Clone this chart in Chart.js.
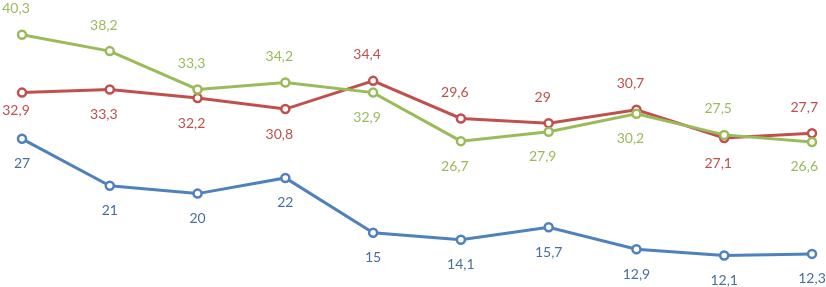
<!DOCTYPE html>
<html>
<head>
<meta charset="utf-8">
<script src="https://cdn.jsdelivr.net/npm/chart.js@4/dist/chart.umd.min.js"></script>
<style>
html,body{margin:0;padding:0;background:#fff;}
#wrap{position:relative;width:826px;height:287px;}
</style>
</head>
<body>
<div id="wrap"><canvas id="c"></canvas></div>
<script>
const categories = ['1','2','3','4','5','6','7','8','9','10'];
const greenValues = [40.3, 38.2, 33.3, 34.2, 32.9, 26.7, 27.9, 30.2, 27.5, 26.6];
const redValues   = [32.9, 33.3, 32.2, 30.8, 34.4, 29.6, 29, 30.7, 27.1, 27.7];
const blueValues  = [27, 21, 20, 22, 15, 14.1, 15.7, 12.9, 12.1, 12.3];

// label placement (style): 1 = above, -1 = below
const greenLabelSide = [1, 1, 1, 1, -1, -1, -1, -1, 1, -1];
const redLabelSide   = [-1, -1, -1, -1, 1, 1, 1, 1, -1, 1];
const blueLabelSide  = [-1, -1, -1, -1, -1, -1, -1, -1, -1, -1];

const fmt = v => String(v).replace('.', ',');

const labelPlugin = {
  id: 'pointLabels',
  afterDatasetsDraw(chart) {
    const ctx = chart.ctx;
    ctx.save();
    ctx.font = '14px Lato, "Open Sans", sans-serif';
    ctx.textAlign = 'center';
    ctx.textBaseline = 'middle';
    chart.data.datasets.forEach((ds, di) => {
      const meta = chart.getDatasetMeta(di);
      meta.data.forEach((pt, i) => {
        const side = ds.labelSide[i];
        let dy = side > 0 ? -26 : 25;
        if (di === 1 && i === 0) dy = 18;
        const text = fmt(ds.data[i]);
        const w = ctx.measureText(text).width;
        let x = pt.x + ds.labelDx;
        if (x - w / 2 < 0) x = w / 2;
        if (x + w / 2 > 818 && di !== 2) x = 818 - w / 2;
        ctx.fillStyle = ds.labelColor;
        ctx.fillText(text, x, pt.y + dy);
      });
    });
    ctx.restore();
  }
};

new Chart(document.getElementById('c'), {
  type: 'line',
  data: {
    labels: categories,
    datasets: [
      { data: greenValues, borderColor: '#9bbb59', labelColor: '#9bbb59', labelSide: greenLabelSide, labelDx: -6 },
      { data: redValues, borderColor: '#c0504d', labelColor: '#c0504d', labelSide: redLabelSide, labelDx: -6 },
      { data: blueValues, borderColor: '#4f81bd', labelColor: '#4a6ea0', labelSide: blueLabelSide, labelDx: 0 }
    ].map(d => Object.assign({
      borderWidth: 3,
      pointRadius: 4,
      pointBorderWidth: 2.5,
      pointBackgroundColor: '#ffffff',
      pointBorderColor: d.borderColor,
      tension: 0,
      clip: false,
      fill: false
    }, d))
  },
  options: {
    responsive: true,
    maintainAspectRatio: false,
    animation: false,
    layout: { padding: { left: 22, right: 14, top: 0, bottom: 0 } },
    plugins: { legend: { display: false }, tooltip: { enabled: false } },
    scales: {
      x: { display: false, offset: false },
      y: { display: false, min: 8.9, max: 43.9 }
    }
  },
  plugins: [labelPlugin]
});
</script>
</body>
</html>
